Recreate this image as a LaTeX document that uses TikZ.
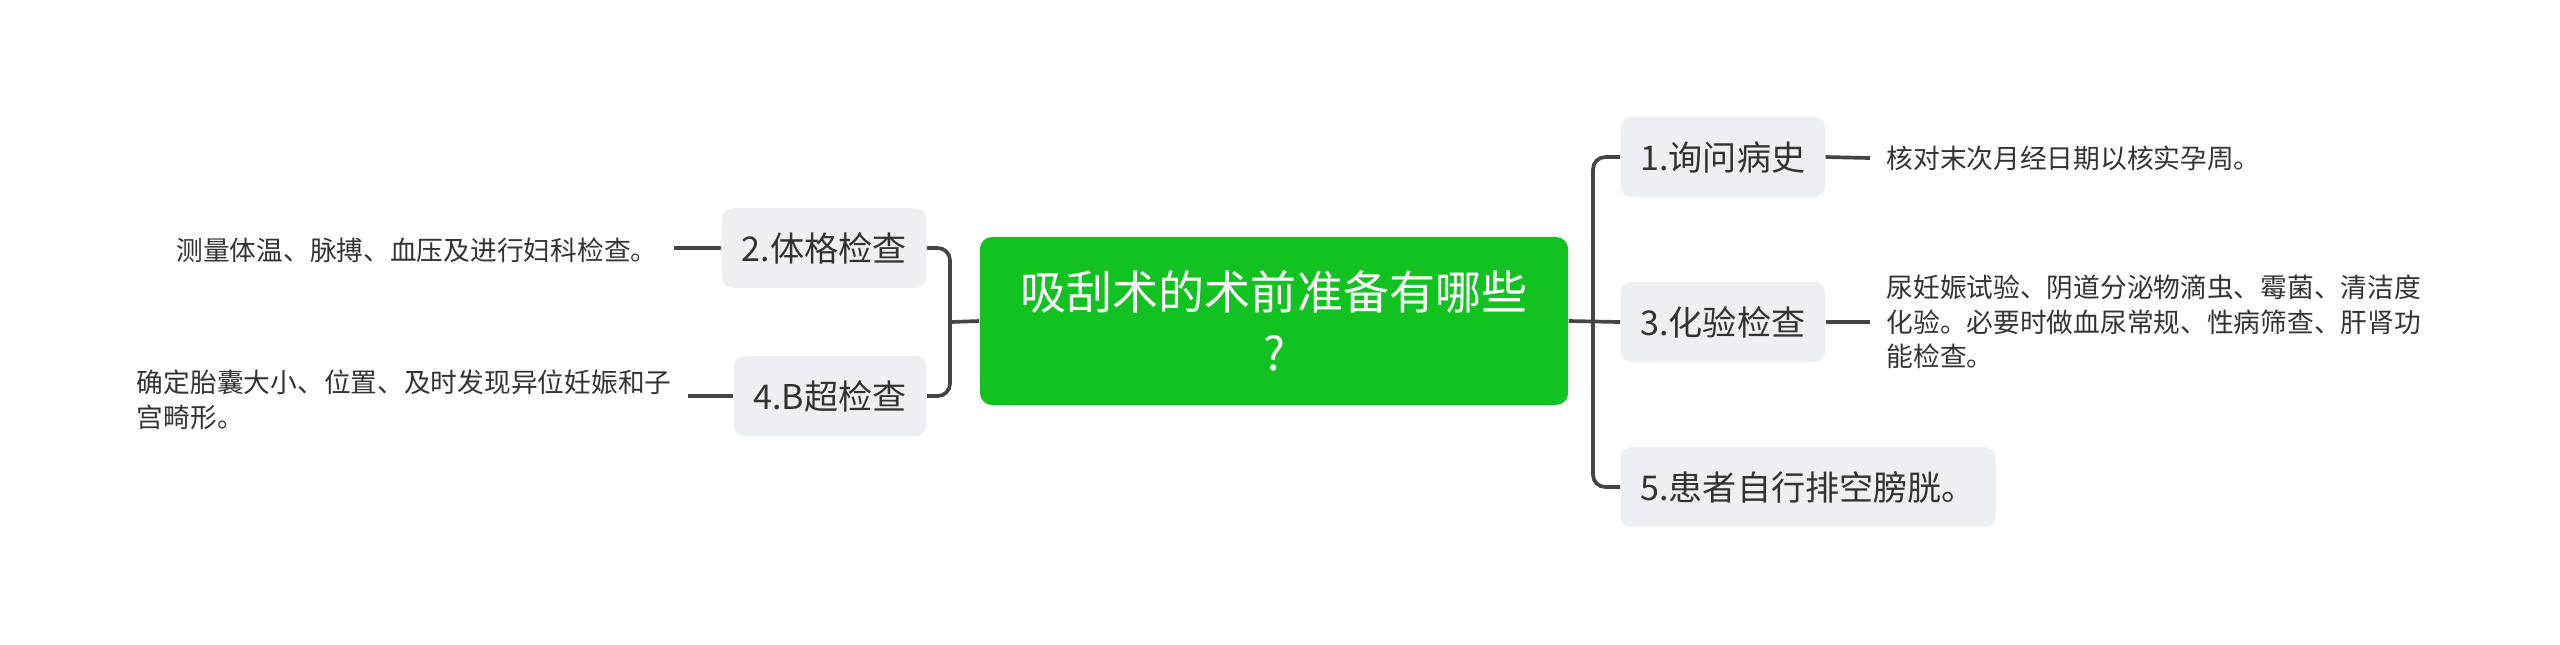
\documentclass[tikz,border=0pt]{standalone}
\usepackage{fontspec}
\setmainfont{Noto Sans CJK SC}
\usepackage{tikz}

\definecolor{rootgreen}{RGB}{18,194,33}
\definecolor{topicgray}{RGB}{237,240,243}
\definecolor{linkgray}{RGB}{68,68,68}
\definecolor{textgray}{RGB}{51,51,51}

\tikzset{
  rootbox/.style={fill=rootgreen, text=white, rounded corners=3.5pt, align=center,
    minimum width=5.88cm, minimum height=1.68cm, inner sep=0pt,
    font=\fontsize{13.1}{17.4}\selectfont},
  topicbox/.style={fill=topicgray, text=textgray, rounded corners=3pt,
    inner xsep=5.6pt, inner ysep=0pt, minimum height=0.8cm,
    font=\fontsize{9.7}{11}\selectfont},
  leaftext/.style={text=textgray, align=left, inner xsep=4.5pt, inner ysep=0pt,
    font=\fontsize{7.6}{9.8}\selectfont},
  link/.style={color=linkgray, line width=1.05pt},
}

\begin{document}
\begin{tikzpicture}[%
      x=0.01cm, y=-0.01cm,
      ]
      \useasboundingbox (0,0) rectangle (2560,644);

      \node [rootbox] (root) at (1274,321) {吸刮术的术前准备有哪些\\?};

      \node [topicbox, anchor=west] (n1) at (1620,157) {1.询问病史};
      \node [topicbox, anchor=west] (n3) at (1620,322) {3.化验检查};
      \node [topicbox, anchor=west] (n5) at (1620,487) {5.患者自行排空膀胱。};
      \node [topicbox, anchor=east] (n2) at (927,248) {2.体格检查};
      \node [topicbox, anchor=east] (n4) at (927,396) {4.B超检查};

      \node [leaftext, anchor=west] (l1) at (1870,158) {核对末次月经日期以核实孕周。};
      \node [leaftext, anchor=west] (l3) at (1870,322) {尿妊娠试验、阴道分泌物滴虫、霉菌、清洁度\\化验。必要时做血尿常规、性病筛查、肝肾功\\能检查。};
      \node [leaftext, anchor=east] (l2) at (674,250) {测量体温、脉搏、血压及进行妇科检查。};
      \node [leaftext, anchor=east] (l4) at (688,400) {确定胎囊大小、位置、及时发现异位妊娠和子\\宫畸形。};

      \coordinate (rtrunk) at (1593,322);
      \coordinate (ltrunk) at (950,322);

      % right side
      \draw [link] (root.east) -- (n3.west);
      \draw [link, rounded corners=3.5pt] (n1.west) -- (n1.west -| rtrunk) -- (n5.west -| rtrunk) -- (n5.west);
      \draw [link] (n1.east) -- (l1.west);
      \draw [link] (n3.east) -- (l3.west);

      % left side
      \draw [link] (root.west) -- (ltrunk);
      \draw [link, rounded corners=3.5pt] (n2.east) -- (n2.east -| ltrunk) -- (n4.east -| ltrunk) -- (n4.east);
      \draw [link] (n2.west) -- (n2.west -| l2.east);
      \draw [link] (n4.west) -- (n4.west -| l4.east);
      \end{tikzpicture}
\end{document}
